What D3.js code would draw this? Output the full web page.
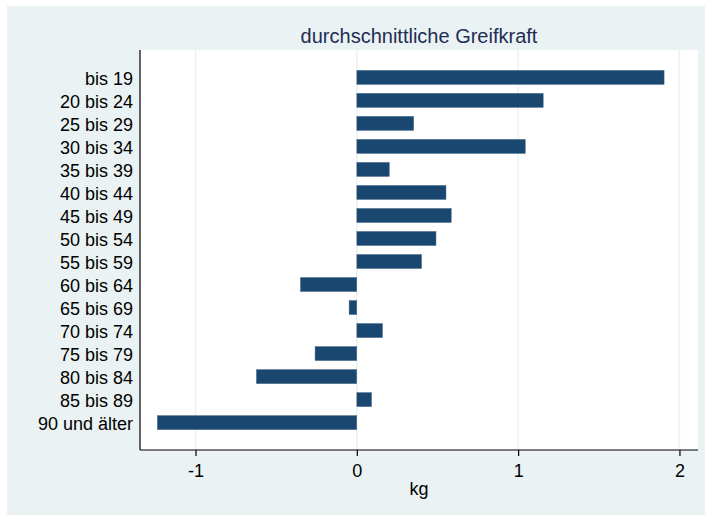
<!DOCTYPE html>
<html>
<head>
<meta charset="utf-8">
<script src="https://cdn.jsdelivr.net/npm/d3@7"></script>
<style>
  body { margin: 0; background: #ffffff; }
  text { font-family: Arial, "Liberation Sans", Helvetica, sans-serif; }
</style>
</head>
<body>
<div id="chart"></div>
<script>
// data
var ageGroups = ["bis 19", "20 bis 24", "25 bis 29", "30 bis 34", "35 bis 39", "40 bis 44",
    "45 bis 49", "50 bis 54", "55 bis 59", "60 bis 64", "65 bis 69", "70 bis 74",
    "75 bis 79", "80 bis 84", "85 bis 89", "90 und älter"];
var gripValues = [1.905, 1.156, 0.353, 1.045, 0.202, 0.553, 0.586, 0.491, 0.402,
    -0.350, -0.048, 0.160, -0.259, -0.623, 0.092, -1.237];
var xTicks = [-1, 0, 1, 2];

var svgWidth = 705;
var svgHeight = 515;

// plot region inside the svg
var plot = { left: 140, top: 50, right: 698, bottom: 450 };

var svg = d3.select("#chart")
    .append("svg")
    .attr("width", svgWidth)
    .attr("height", svgHeight);

// outer graph background (stata style)
svg.append("rect")
    .attr("x", 7)
    .attr("y", 6)
    .attr("width", svgWidth - 7)
    .attr("height", svgHeight - 6)
    .attr("fill", "#eaf2f3");

svg.append("rect")
    .attr("x", plot.left)
    .attr("y", plot.top)
    .attr("width", plot.right - plot.left)
    .attr("height", plot.bottom - plot.top)
    .attr("fill", "#ffffff");

var xScale = d3.scaleLinear()
    .domain([-1.344, 2.115])
    .range([plot.left, plot.right]);

var yScale = d3.scaleBand()
    .domain(ageGroups)
    .range([plot.top, plot.bottom])
    .paddingInner(0.38)
    .paddingOuter(0.88);

// grid lines
svg.append("g")
    .selectAll("line")
    .data(xTicks)
    .enter()
    .append("line")
    .attr("x1", d => xScale(d))
    .attr("x2", d => xScale(d))
    .attr("y1", plot.top)
    .attr("y2", plot.bottom)
    .attr("stroke", "#eaf2f3")
    .attr("stroke-width", 1.5);

// bars
svg.append("g")
    .selectAll("rect")
    .data(ageGroups)
    .enter()
    .append("rect")
    .attr("x", (d, i) => xScale(Math.min(0, gripValues[i])))
    .attr("y", d => yScale(d))
    .attr("width", (d, i) => Math.abs(xScale(gripValues[i]) - xScale(0)))
    .attr("height", yScale.bandwidth())
    .attr("fill", "#1a476f")
    .attr("stroke", "#5f7f9c")
    .attr("stroke-width", 0.4);

// x axis
var bottomAxis = d3.axisBottom(xScale)
    .tickValues(xTicks)
    .tickSize(6)
    .tickPadding(8)
    .tickFormat(d => String(d));

var xAxis = svg.append("g")
    .attr("transform", `translate(0, ${plot.bottom})`)
    .call(bottomAxis);
xAxis.select(".domain").attr("stroke", "#000").attr("stroke-width", 1.2)
    .attr("d", `M${plot.left},0H${plot.right}`);
xAxis.selectAll(".tick line").attr("stroke", "#000").attr("stroke-width", 1.2);
xAxis.selectAll(".tick text")
    .attr("font-size", "18px")
    .attr("fill", "#000")
    .attr("font-family", "Arial, 'Liberation Sans', sans-serif");

// y axis (labels only, line on the left)
var leftAxis = d3.axisLeft(yScale).tickSize(0).tickPadding(7);
var yAxis = svg.append("g")
    .attr("transform", `translate(${plot.left}, 0)`)
    .call(leftAxis);
yAxis.select(".domain").attr("stroke", "#000").attr("stroke-width", 1.2)
    .attr("d", `M0,${plot.top}V${plot.bottom}`);
yAxis.selectAll(".tick text")
    .attr("font-size", "18px")
    .attr("fill", "#000")
    .attr("dy", "0.4em")
    .attr("font-family", "Arial, 'Liberation Sans', sans-serif");

// title
svg.append("text")
    .attr("x", (plot.left + plot.right) / 2)
    .attr("y", 43)
    .attr("text-anchor", "middle")
    .attr("font-size", "20px")
    .attr("fill", "#1e2d53")
    .text("durchschnittliche Greifkraft");

// x axis title
svg.append("text")
    .attr("x", (plot.left + plot.right) / 2)
    .attr("y", 495)
    .attr("text-anchor", "middle")
    .attr("font-size", "18px")
    .attr("fill", "#000")
    .text("kg");
</script>
</body>
</html>
